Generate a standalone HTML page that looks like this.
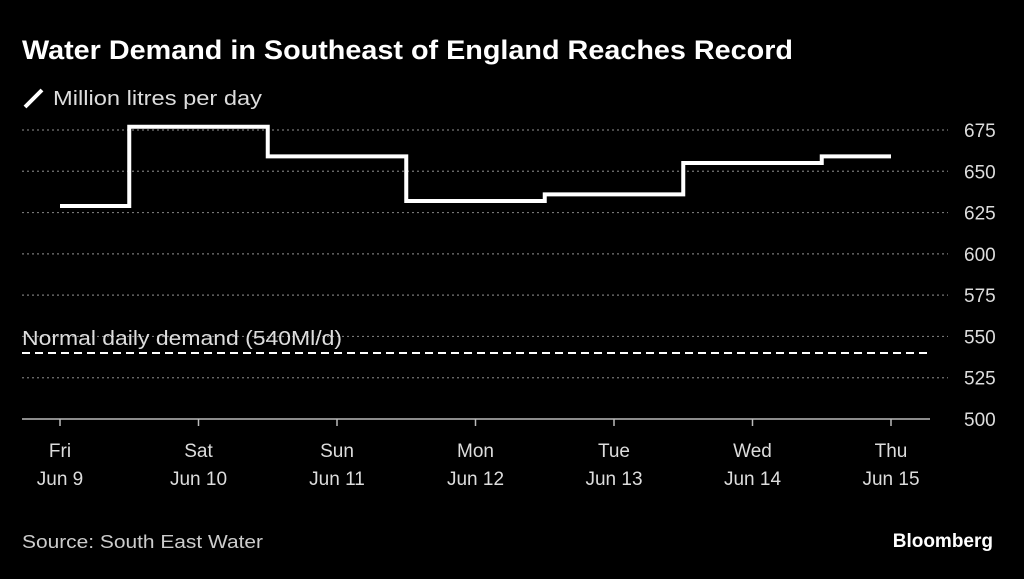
<!DOCTYPE html>
<html><head><meta charset="utf-8"><style>
html,body{margin:0;padding:0;background:#000;}
body{width:1024px;height:574px;overflow:hidden;font-family:"Liberation Sans",sans-serif;}
</style></head><body>
<svg width="1024" height="574" viewBox="0 0 1024 574" xmlns="http://www.w3.org/2000/svg">
<rect width="1024" height="574" fill="#000"/>
<text x="22" y="59" fill="#fff" font-size="27" font-weight="bold" textLength="771" lengthAdjust="spacingAndGlyphs">Water Demand in Southeast of England Reaches Record</text>
<line x1="25" y1="107" x2="42" y2="90" stroke="#fff" stroke-width="4"/>
<text x="53" y="105" fill="#ddd" font-size="20" textLength="209" lengthAdjust="spacingAndGlyphs">Million litres per day</text>
<g id="grid"></g>
<g id="xaxis"></g>
<text x="22" y="345" fill="#ddd" font-size="20" textLength="320" lengthAdjust="spacingAndGlyphs">Normal daily demand (540Ml/d)</text>
<g id="series"></g>
<text x="22" y="548" fill="#ccc" font-size="18" textLength="241" lengthAdjust="spacingAndGlyphs">Source: South East Water</text>
<text x="993" y="547" fill="#fff" font-size="19" font-weight="bold" text-anchor="end">Bloomberg</text>
</svg>
<script>
const yTicks=[500,525,550,575,600,625,650,675];
const dayNames=["Fri","Sat","Sun","Mon","Tue","Wed","Thu"];
const dayDates=["Jun 9","Jun 10","Jun 11","Jun 12","Jun 13","Jun 14","Jun 15"];
const demand=[629,677,659,632,636,655,659];
const normalDemand=540;
const NS="http://www.w3.org/2000/svg";
function y(v){return 419-(v-500)*(419-130)/175;}
function x(d){return 60+d*138.5;}
function mk(t,a,p){const e=document.createElementNS(NS,t);for(const k in a)e.setAttribute(k,a[k]);p.appendChild(e);return e;}
const grid=document.getElementById('grid');
yTicks.forEach(v=>{
  if(v!==500){const l=mk('line',{x1:22,x2:948,y1:y(v),y2:y(v),stroke:'#777','stroke-width':1.2,'stroke-dasharray':'2,3'},grid);
  
  }
  const t=mk('text',{x:964,y:y(v)+7,fill:'#ddd','font-size':19},grid);
  t.textContent=v;
  
  
});
const xa=document.getElementById('xaxis');
const ax=mk('line',{x1:22,x2:930,y1:419,y2:419,stroke:'#bbb','stroke-width':1.5},xa);


dayNames.forEach((n,i)=>{
  const tk=mk('line',{x1:x(i),x2:x(i),y1:419,y2:426,stroke:'#bbb','stroke-width':1.5},xa);
  
  
  const t1=mk('text',{x:x(i),y:457,fill:'#ddd','font-size':19,'text-anchor':'middle'},xa);
  t1.textContent=n;
  
  
  const t2=mk('text',{x:x(i),y:485,fill:'#ddd','font-size':19,'text-anchor':'middle'},xa);
  t2.textContent=dayDates[i];
  
  
});
const s=document.getElementById('series');
const nl=mk('line',{x1:22,x2:929,y1:y(normalDemand),y2:y(normalDemand),stroke:'#fff','stroke-width':2,'stroke-dasharray':'8,5'},s);


let d='M'+x(0)+','+y(demand[0]);
for(let i=1;i<demand.length;i++){const xm=x(i-0.5);d+=' L'+xm+','+y(demand[i-1])+' L'+xm+','+y(demand[i]);}
d+=' L'+x(demand.length-1)+','+y(demand[demand.length-1]);
const p=mk('path',{d:d,fill:'none',stroke:'#fff','stroke-width':4},s);


</script>
</body></html>
